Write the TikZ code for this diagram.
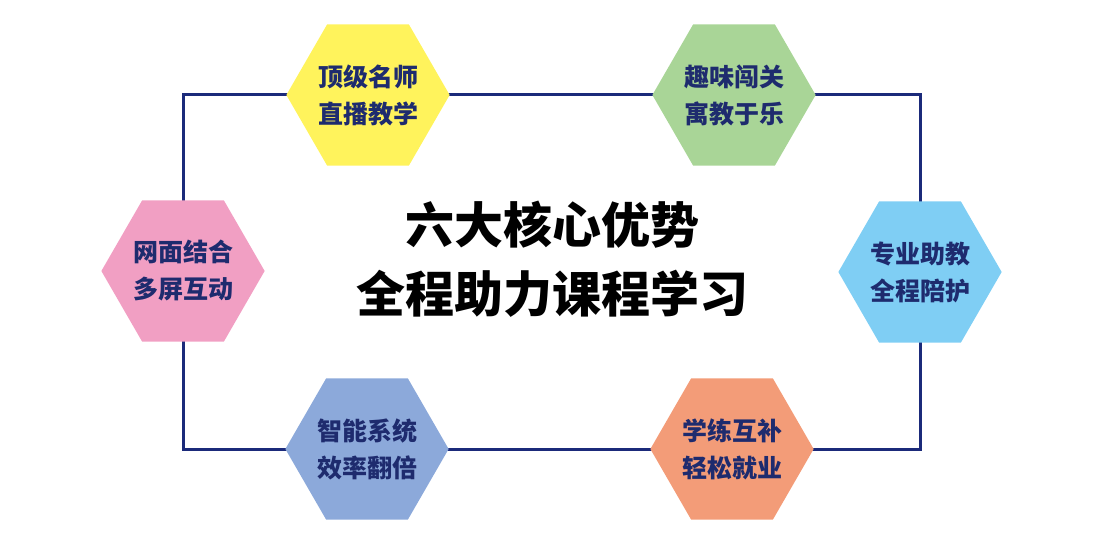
\documentclass[tikz,border=0pt]{standalone}
\usepackage{fontspec}
\newfontfamily\cjk{Noto Sans CJK SC}
\usetikzlibrary{shapes.geometric,backgrounds}
\definecolor{frameblue}{HTML}{1B2A7A}
\definecolor{labelblue}{HTML}{1E2B6E}
\definecolor{hexyellow}{HTML}{FFF35C}
\definecolor{hexgreen}{HTML}{A9D597}
\definecolor{hexpink}{HTML}{F19FC3}
\definecolor{hexblue}{HTML}{7FCEF4}
\definecolor{hexsteel}{HTML}{8CA9DA}
\definecolor{hexsalmon}{HTML}{F39C78}

\tikzset{
    hexa/.style={regular polygon, regular polygon sides=6, minimum size=160pt,
        inner sep=0pt, fill=#1, text=labelblue, align=center,
        font=\cjk\bfseries\fontsize{25}{37}\selectfont}
}

\begin{document}
\begin{tikzpicture}[x=1pt,y=-1pt]
\useasboundingbox (0,0) rectangle (1108,548);

\node[hexa=hexyellow] (teacher) at (368,95)  {顶级名师\\直播教学};
\node[hexa=hexgreen]  (game)    at (734,95)  {趣味闯关\\寓教于乐};
\node[hexa=hexpink]   (online)  at (183,271) {网面结合\\多屏互动};
\node[hexa=hexblue]   (tutor)   at (920,272) {专业助教\\全程陪护};
\node[hexa=hexsteel]  (smart)   at (367,449) {智能系统\\效率翻倍};
\node[hexa=hexsalmon] (job)     at (732,449) {学练互补\\轻松就业};

\node[align=center, font=\cjk\bfseries\fontsize{49}{69}\selectfont] (title) at (552,259)
    {六大核心优势\\全程助力课程学习};

\begin{scope}[on background layer]
\draw[frameblue, line width=3pt]
    (online.center) |- (teacher.center) -- (game.center)
    -| (tutor.center) |- (job.center) -- (smart.center)
    -| (online.center) -- cycle;
\end{scope}
\end{tikzpicture}
\end{document}
